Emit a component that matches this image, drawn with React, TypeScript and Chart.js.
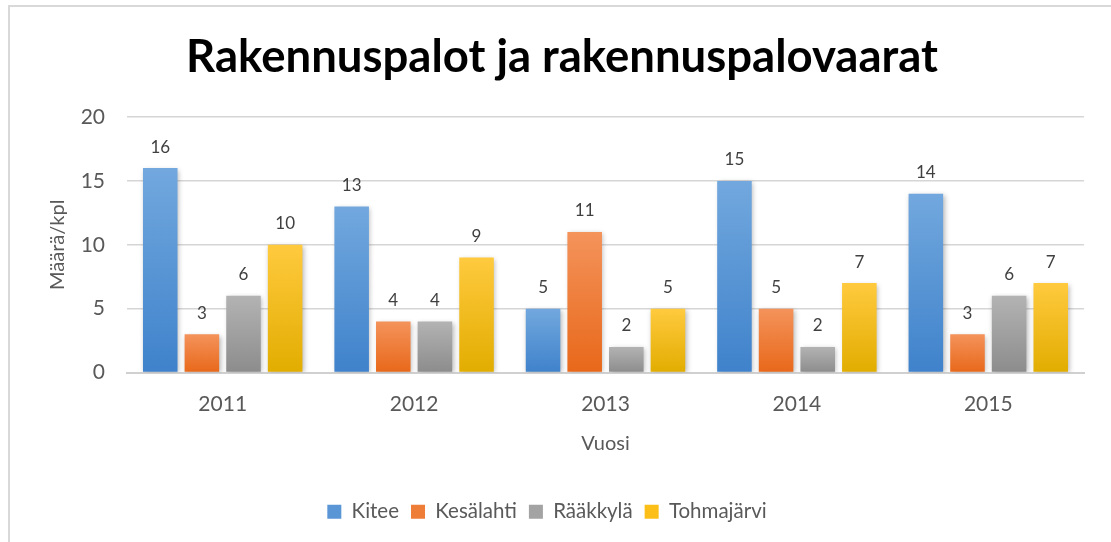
import React, { useEffect, useRef } from "react";
import { Chart, registerables } from "chart.js";

Chart.register(...registerables);

const chartTitle = "Rakennuspalot ja rakennuspalovaarat";
const years = ["2011", "2012", "2013", "2014", "2015"];
const seriesNames = ["Kitee", "Kesälahti", "Rääkkylä", "Tohmajärvi"];
const kitee = [16, 13, 5, 15, 14];
const kesalahti = [3, 4, 11, 5, 3];
const raakkyla = [6, 4, 2, 2, 6];
const tohmajarvi = [10, 9, 5, 7, 7];
const yTicks = [0, 5, 10, 15, 20];

const FONT = "Lato, 'Open Sans', sans-serif";
const TEXT = "#595959";

const palette = [
  { top: "#72a8de", bottom: "#3f82cb", mid: "#5a96d6" },
  { top: "#f4935b", bottom: "#e8681a", mid: "#ee7d38" },
  { top: "#b3b3b3", bottom: "#8c8c8c", mid: "#a3a3a3" },
  { top: "#ffca3e", bottom: "#e2ad00", mid: "#fcbf18" },
];

function gradientFor(idx: number) {
  return (ctx: any) => {
    const chart = ctx.chart;
    const c = palette[idx];
    if (!chart.chartArea || ctx.type !== "data") return c.mid;
    const ys = chart.scales.y;
    const v = ctx.raw as number;
    const top = ys.getPixelForValue(v);
    const bottom = ys.getPixelForValue(0);
    if (!isFinite(top) || !isFinite(bottom) || top === bottom) return c.mid;
    const g = chart.ctx.createLinearGradient(0, top, 0, bottom);
    g.addColorStop(0, c.top);
    g.addColorStop(1, c.bottom);
    return g;
  };
}

const titlePlugin = {
  id: "customTitle",
  afterDraw(chart: any) {
    const ctx = chart.ctx;
    ctx.save();
    ctx.font = `bold 45.5px ${FONT}`;
    ctx.fillStyle = "#000000";
    ctx.textAlign = "center";
    ctx.textBaseline = "middle";
    ctx.fillText(chartTitle, 562, 57);
    ctx.restore();
  },
};

const shadowPlugin = {
  id: "barShadow",
  beforeDatasetsDraw(chart: any) {
    const ctx = chart.ctx;
    ctx.save();
    ctx.shadowColor = "rgba(0,0,0,0.28)";
    ctx.shadowBlur = 5;
    ctx.shadowOffsetX = 1.5;
    ctx.shadowOffsetY = 1.5;
  },
  afterDatasetsDraw(chart: any) {
    const ctx = chart.ctx;
    ctx.restore();
    ctx.save();
    ctx.font = `17px ${FONT}`;
    ctx.fillStyle = "#404040";
    ctx.textAlign = "center";
    ctx.textBaseline = "middle";
    chart.data.datasets.forEach((ds: any, i: number) => {
      const meta = chart.getDatasetMeta(i);
      meta.data.forEach((bar: any, j: number) => {
        ctx.fillText(String(ds.data[j]), bar.x, bar.y - 21);
      });
    });
    ctx.restore();
  },
};

export default function App() {
  const ref = useRef<HTMLCanvasElement | null>(null);
  useEffect(() => {
    if (!ref.current) return;
    const series = [kitee, kesalahti, raakkyla, tohmajarvi];
    const chart = new Chart(ref.current, {
      type: "bar",
      data: {
        labels: years,
        datasets: series.map((d, i) => ({
          label: seriesNames[i],
          data: d,
          backgroundColor: gradientFor(i),
          borderWidth: 0,
          barPercentage: 0.83,
          categoryPercentage: 0.87,
        })),
      },
      options: {
        animation: false,
        responsive: false,
        maintainAspectRatio: false,
        devicePixelRatio: 1,
        layout: { padding: { left: 10, right: 27, top: 117, bottom: 10 } },
        plugins: {
          tooltip: { enabled: false },
          title: { display: false },
          legend: {
            position: "bottom",
            labels: {
              color: TEXT,
              font: { family: FONT, size: 20.5 },
              boxWidth: 14,
              boxHeight: 14,
              padding: 12,
              generateLabels: () =>
                seriesNames.map((n, i) => ({
                  text: n,
                  fillStyle: palette[i].mid,
                  strokeStyle: palette[i].mid,
                  lineWidth: 0,
                  hidden: false,
                  datasetIndex: i,
                  fontColor: TEXT,
                })),
            },
          },
        },
        scales: {
          x: {
            grid: { display: false, drawTicks: false },
            border: { display: true, color: "#d0d0d0", width: 2 },
            ticks: { color: TEXT, font: { family: FONT, size: 21 }, padding: 19 },
            title: {
              display: true,
              text: "Vuosi",
              color: TEXT,
              font: { family: FONT, size: 20 },
              padding: { top: 0, bottom: 34 },
            },
            afterFit: (s: any) => {
              s.height = 117;
            },
          },
          y: {
            min: 0,
            max: 20,
            afterBuildTicks: (s: any) => {
              s.ticks = yTicks.map((v) => ({ value: v }));
            },
            grid: { color: "#d6d6d6", lineWidth: 1.5, drawTicks: false },
            border: { display: false },
            ticks: { color: TEXT, font: { family: FONT, size: 21 }, padding: 22 },
            title: {
              display: true,
              text: "Määrä/kpl",
              color: TEXT,
              font: { family: FONT, size: 20 },
              padding: { top: 36, bottom: 0 },
            },
            afterFit: (s: any) => {
              s.width = 117;
            },
          },
        },
      },
      plugins: [shadowPlugin, titlePlugin],
    });
    return () => chart.destroy();
  }, []);
  return (
    <div style={{ position: "fixed", left: 0, top: 0, width: 1111, height: 542, background: "#fff", overflow: "hidden" }}>
      <div
        style={{
          position: "absolute",
          left: 8,
          top: 5,
          width: 1200,
          height: 700,
          borderLeft: "2px solid #d9d9d9",
          borderTop: "2px solid #d9d9d9",
        }}
      />
      <canvas ref={ref} width={1111} height={542} style={{ position: "absolute", left: 0, top: 0, width: 1111, height: 542 }} />
    </div>
  );
}
